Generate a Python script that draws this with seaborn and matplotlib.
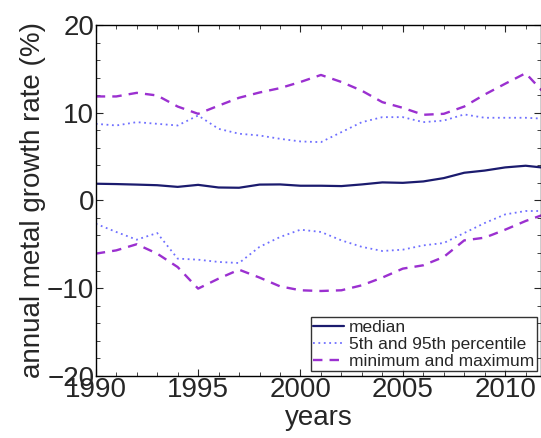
import numpy as np
import pandas as pd
import matplotlib
matplotlib.use("Agg")
import matplotlib.pyplot as plt
import seaborn as sns
from matplotlib.ticker import MultipleLocator

years = list(range(1990, 2013))
median = [1.9, 1.86, 1.8, 1.73, 1.54, 1.77, 1.47, 1.44, 1.8, 1.82, 1.67, 1.67,
          1.63, 1.82, 2.05, 2.0, 2.16, 2.54, 3.15, 3.4, 3.76, 3.95, 3.7]
p95 = [8.73, 8.54, 8.92, 8.73, 8.54, 9.68, 8.16, 7.6, 7.4, 7.02, 6.72, 6.64,
       7.78, 8.92, 9.49, 9.49, 8.92, 9.1, 9.8, 9.42, 9.42, 9.42, 9.3]
p5 = [-2.66, -3.6, -4.48, -3.72, -6.64, -6.76, -7.02, -7.14, -5.3, -4.18, -3.34, -3.6,
      -4.56, -5.3, -5.77, -5.62, -5.13, -4.86, -3.72, -2.58, -1.6, -1.21, -1.21]
vmax = [11.85, 11.85, 12.26, 11.96, 10.7, 9.87, 10.8, 11.7, 12.3, 12.8, 13.5, 14.3,
        13.5, 12.5, 11.2, 10.55, 9.76, 9.87, 10.7, 12.07, 13.3, 14.5, 12.0]
vmin = [-6.07, -5.7, -5.0, -6.07, -7.6, -10.06, -8.92, -7.9, -8.8, -9.8, -10.25, -10.33,
        -10.25, -9.68, -8.8, -7.78, -7.4, -6.45, -4.56, -4.25, -3.34, -2.35, -1.52]

labels = ["median", "5th and 95th percentile", "minimum and maximum"]

sns.set_style("ticks")
plt.rcParams['font.family'] = ['Liberation Sans', 'DejaVu Sans']

fig = plt.figure(figsize=(5.41, 4.38), dpi=100)
ax = fig.add_axes([0.177, 0.142, 0.823, 0.801])

c_med = "#1b1b6e"
c_pct = "#6f6fff"
c_mm = "#9b30d0"

sns.lineplot(x=years, y=median, ax=ax, color=c_med, lw=1.6, label=labels[0])
sns.lineplot(x=years, y=p95, ax=ax, color=c_pct, lw=1.3, linestyle=(0, (1, 2)), label=labels[1])
sns.lineplot(x=years, y=p5, ax=ax, color=c_pct, lw=1.3, linestyle=(0, (1, 2)))
sns.lineplot(x=years, y=vmax, ax=ax, color=c_mm, lw=1.7, linestyle=(0, (4, 3)), label=labels[2])
sns.lineplot(x=years, y=vmin, ax=ax, color=c_mm, lw=1.7, linestyle=(0, (4, 3)))

ax.set_xlim(1990, 2011.75)
ax.set_ylim(-20, 20)
ax.set_xticks([1990, 1995, 2000, 2005, 2010])
ax.set_yticks([-20, -10, 0, 10, 20])
ax.set_yticklabels(["\u221220", "\u221210", "0", "10", "20"])
ax.xaxis.set_minor_locator(MultipleLocator(1))
ax.yaxis.set_minor_locator(MultipleLocator(2))
ax.tick_params(which='both', direction='in', top=True, right=True, labelsize=20, pad=1)
ax.tick_params(which='major', length=5, width=0.8)
ax.tick_params(which='minor', length=3, width=0.6)
for s in ax.spines.values():
    s.set_linewidth(1.0)
    s.set_color("black")

ax.set_xlabel("years", fontsize=20, labelpad=1)
ax.set_ylabel("annual metal growth rate (%)", fontsize=20, labelpad=1)

leg = ax.legend(loc="lower right", fontsize=12.5, frameon=True, fancybox=False,
                borderpad=0.15, labelspacing=0.1, handlelength=1.8, handletextpad=0.25,
                borderaxespad=0.25)
leg.get_frame().set_edgecolor("black")
leg.get_frame().set_linewidth(1.0)

fig.savefig("out.png", dpi=100)
